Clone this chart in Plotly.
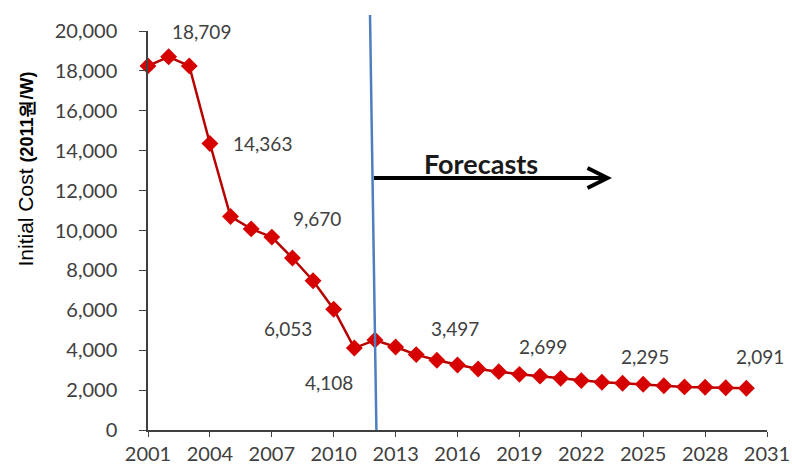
import plotly.graph_objects as go

years = list(range(2001, 2031))
costs = [18250, 18709, 18250, 14363, 10700, 10080, 9670, 8620, 7480, 6053,
         4108, 4510, 4160, 3780, 3497, 3260, 3060, 2925, 2790, 2699,
         2590, 2475, 2390, 2340, 2295, 2220, 2160, 2140, 2120, 2091]

# labelled points: year -> (xshift, yshift) in pixels
label_years = [2002, 2004, 2007, 2010, 2011, 2015, 2020, 2025, 2030]
label_dx = [33, 53, 45, -46, -25, 18, 3, 2, 14]
label_dy = [25, 0, 19, -19, -34, 32, 30, 28, 32]

forecast_start = 2012
forecast_text = "Forecasts"
y_title = "Initial Cost <span style='font-size:18px'><b>(2011원/W)</b></span>"

X_RANGE = [2001, 2031]
Y_RANGE = [0, 20000]

fig = go.Figure()
fig.add_trace(go.Scatter(
    x=years, y=costs, mode="lines+markers",
    line=dict(color="#b80000", width=2.5),
    marker=dict(symbol="diamond", size=13, color="#d60000"),
    cliponaxis=False, showlegend=False, hoverinfo="x+y"))

lab_font = dict(family="Lato, sans-serif", size=19, color="#404040")
for yr, dx, dy in zip(label_years, label_dx, label_dy):
    v = costs[years.index(yr)]
    fig.add_annotation(x=yr, y=v, xref="x", yref="y", text=f"{v:,}",
                       showarrow=False, xshift=dx, yshift=dy,
                       xanchor="center", yanchor="middle", font=lab_font)

# forecast divider (slightly slanted as in the original)
fig.add_shape(type="line", xref="x", yref="paper",
              x0=forecast_start - 0.24, y0=1.04, x1=forecast_start + 0.07, y1=0,
              line=dict(color="#4f7fbf", width=2.5), layer="above")

# forecasts arrow
ay = 12630
ax0, ax1 = forecast_start - 0.05, 2023.27
fig.add_shape(type="line", xref="x", yref="y", x0=ax0, y0=ay, x1=ax1, y1=ay,
              line=dict(color="black", width=4))
fig.add_shape(type="path", xref="x", yref="y",
              path=f"M {ax1-0.97},{ay+500} L {ax1},{ay} L {ax1-0.97},{ay-500}",
              line=dict(color="black", width=4))
fig.add_annotation(x=2017.15, y=ay, xref="x", yref="y", text=f"<b>{forecast_text}</b>",
                   showarrow=False, yshift=15, xanchor="center", yanchor="middle",
                   font=dict(family="Lato, sans-serif", size=27, color="#1a1a1a"))

# y-axis title
fig.add_annotation(x=-0.198, y=0.654, xref="paper", yref="paper", text=y_title,
                   textangle=-90, showarrow=False, xanchor="center", yanchor="middle",
                   font=dict(family="Liberation Sans, Arial, sans-serif", size=21, color="black"))

tick_font = dict(family="Lato, sans-serif", size=20, color="#404040")
fig.update_xaxes(range=X_RANGE, tick0=2001, dtick=3, ticks="outside", ticklen=5,
                 tickcolor="#404040", showline=True, linecolor="#404040", linewidth=1.5,
                 showgrid=False, zeroline=False, tickfont=tick_font, ticklabelstandoff=0,
                 automargin=False)
fig.update_yaxes(range=Y_RANGE, dtick=2000, tickformat=",", ticks="outside", ticklen=7,
                 tickcolor="#404040", showline=True, linecolor="#404040", linewidth=1.5,
                 showgrid=False, zeroline=False, tickfont=tick_font, ticklabelstandoff=18,
                 automargin=False)

fig.update_layout(width=792, height=469, margin=dict(l=148, r=25, t=31, b=39, autoexpand=False),
                  paper_bgcolor="white", plot_bgcolor="white")

fig.write_html("out.html")
